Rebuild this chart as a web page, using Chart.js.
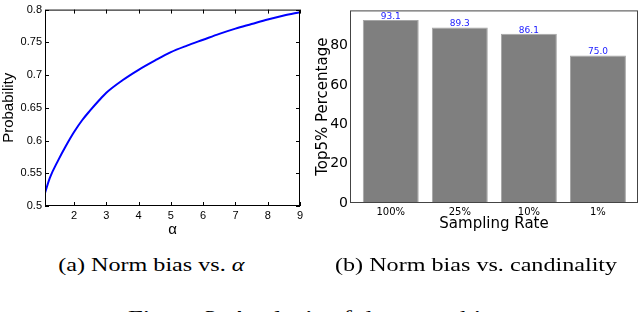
<!DOCTYPE html>
<html>
<head>
<meta charset="utf-8">
<script src="https://cdn.jsdelivr.net/npm/chart.js@4.4.0/dist/chart.umd.min.js"></script>
<style>
  body { margin:0; width:640px; height:312px; overflow:hidden; background:#fff; position:relative; }
  #wrapA { position:absolute; left:0; top:0; width:310px; height:240px; }
  #wrapB { position:absolute; left:300px; top:0; width:340px; height:240px; }
  .cap { position:absolute; font-family:'Liberation Serif', 'Times New Roman', serif; font-size:19px; line-height:19px; white-space:nowrap; color:#000; }
  .cap span { display:inline-block; transform:scaleX(1.27); }
</style>
</head>
<body>
<div id="wrapA"><canvas id="chartA" width="310" height="240"></canvas></div>
<div id="wrapB"><canvas id="chartB" width="340" height="240"></canvas></div>

<div class="cap" style="left:0; width:302px; top:255px; text-align:center;"><span>(a) Norm bias vs. <i>α</i></span></div>
<div class="cap" style="left:326px; width:300px; top:255px; text-align:center;"><span>(b) Norm bias vs. candinality</span></div>
<div class="cap" style="left:128px; top:308px;"><span style="transform-origin:left; transform:scaleX(1.4);">Figure 3: Analysis of the norm bias</span></div>

<script>
// (a) probability vs alpha
const alphaValues = [1.1, 1.25, 1.5, 1.75, 2, 2.25, 2.5, 2.75, 3, 3.5, 4, 4.5, 5, 5.5, 6, 6.5, 7, 7.5, 8, 8.5, 9]
const probValues = [0.520, 0.543, 0.569, 0.592, 0.613, 0.631, 0.646, 0.660, 0.673, 0.692, 0.708, 0.722, 0.735, 0.745, 0.754, 0.763, 0.771, 0.778, 0.785, 0.791, 0.796]
const alphaTicks = [2, 3, 4, 5, 6, 7, 8, 9]
const probTicks = [0.5, 0.55, 0.6, 0.65, 0.7, 0.75, 0.8]

// (b) top5% vs sampling rate
const samplingRates = ['100%', '25%', '10%', '1%']
const top5Values = [93.1, 89.3, 86.1, 75.0]
const top5Ticks = [0, 20, 40, 60, 80]

// box around the plot + matlab style inward ticks
const framePlugin = {
  id: 'frame',
  afterDraw(chart, args, opts) {
    const {ctx, chartArea: a} = chart
    ctx.save()
    ctx.strokeStyle = opts.color
    ctx.lineWidth = 1
    ctx.strokeRect(a.left + 0.5, a.top + 0.5, a.right - a.left - 1, a.bottom - a.top - 1)
    if (opts.ticks) {
      ctx.beginPath()
      for (let t of chart.scales.x.ticks) {
        const px = Math.round(chart.scales.x.getPixelForValue(t.value)) + 0.5
        ctx.moveTo(px, a.bottom); ctx.lineTo(px, a.bottom - 4)
        ctx.moveTo(px, a.top); ctx.lineTo(px, a.top + 4)
      }
      for (let t of chart.scales.y.ticks) {
        const py = Math.round(chart.scales.y.getPixelForValue(t.value)) + 0.5
        ctx.moveTo(a.left, py); ctx.lineTo(a.left + 4, py)
        ctx.moveTo(a.right, py); ctx.lineTo(a.right - 4, py)
      }
      ctx.stroke()
    }
    ctx.restore()
  }
}

const barLabels = {
  id: 'barLabels',
  afterDatasetsDraw(chart) {
    const {ctx} = chart
    const meta = chart.getDatasetMeta(0)
    ctx.save()
    ctx.font = '9px "DejaVu Sans"'
    ctx.fillStyle = '#1a1aff'
    ctx.textAlign = 'center'
    ctx.textBaseline = 'bottom'
    meta.data.forEach((bar, i) => {
      ctx.fillText(top5Values[i].toFixed(1), bar.x, bar.y + 1)
    })
    ctx.restore()
  }
}

const fontA = 'Liberation Sans'
const fontB = 'DejaVu Sans'

new Chart(document.getElementById('chartA'), {
  type: 'line',
  data: {
    datasets: [{
      data: alphaValues.map((a, i) => ({x: a, y: probValues[i]})),
      borderColor: '#0000ff',
      borderWidth: 2,
      pointRadius: 0,
      cubicInterpolationMode: 'monotone'
    }]
  },
  options: {
    responsive: false,
    animation: false,
    layout: { padding: { left: 0, right: 10, top: 7, bottom: 0 } },
    plugins: { legend: { display: false }, tooltip: { enabled: false }, frame: { color: '#000', ticks: true } },
    scales: {
      x: {
        type: 'linear', min: 1.1, max: 9,
        afterBuildTicks: s => { s.ticks = alphaTicks.map(v => ({value: v})) },
        afterFit: s => { s.height = 34 },
        grid: { display: false, drawTicks: false },
        border: { display: false },
        ticks: { color: '#000', font: { family: fontA, size: 11 }, padding: 3, maxRotation: 0 },
        title: { display: true, text: 'α', color: '#000', font: { family: fontA, size: 15 }, padding: { top: 0, bottom: 1 } }
      },
      y: {
        min: 0.5, max: 0.8,
        afterBuildTicks: s => { s.ticks = probTicks.map(v => ({value: v})) },
        afterFit: s => { s.width = 45 },
        grid: { display: false, drawTicks: false },
        border: { display: false },
        ticks: { color: '#000', font: { family: fontA, size: 11 }, padding: 3, callback: v => String(parseFloat(v.toFixed(2))) },
        title: { display: true, text: 'Probability', color: '#000', font: { family: fontA, size: 15 }, padding: { top: 0, bottom: 0 } }
      }
    }
  },
  plugins: [framePlugin]
})

new Chart(document.getElementById('chartB'), {
  type: 'bar',
  data: {
    datasets: [{
      data: top5Values.map((v, i) => ({x: i, y: v})),
      backgroundColor: '#7f7f7f',
      borderColor: '#a5a5a5',
      borderWidth: 1,
      barPercentage: 0.81,
      categoryPercentage: 1
    }]
  },
  options: {
    responsive: false,
    animation: false,
    layout: { padding: { left: 0, right: 2, top: 1, bottom: 0 } },
    plugins: { legend: { display: false }, tooltip: { enabled: false }, frame: { color: '#444', ticks: false } },
    scales: {
      x: {
        type: 'linear', min: -0.59, max: 3.58, offset: false,
        afterBuildTicks: s => { s.ticks = samplingRates.map((_, i) => ({value: i})) },
        afterFit: s => { s.height = 37 },
        grid: { display: false, drawTicks: false },
        border: { display: false },
        ticks: { color: '#000', font: { family: fontB, size: 10 }, padding: 3, maxRotation: 0, callback: v => samplingRates[v] },
        title: { display: true, text: 'Sampling Rate', color: '#000', font: { family: fontB, size: 15 }, padding: { top: 0, bottom: 7 } }
      },
      y: {
        min: 0, max: 98,
        afterBuildTicks: s => { s.ticks = top5Ticks.map(v => ({value: v})) },
        afterFit: s => { s.width = 50 },
        grid: { display: false, drawTicks: false },
        border: { display: false },
        ticks: { color: '#000', font: { family: fontB, size: 14 }, padding: 2 },
        title: { display: true, text: 'Top5% Percentage', color: '#000', font: { family: fontB, size: 15 }, padding: { top: 14, bottom: 0 } }
      }
    }
  },
  plugins: [framePlugin, barLabels]
})
</script>
</body>
</html>
